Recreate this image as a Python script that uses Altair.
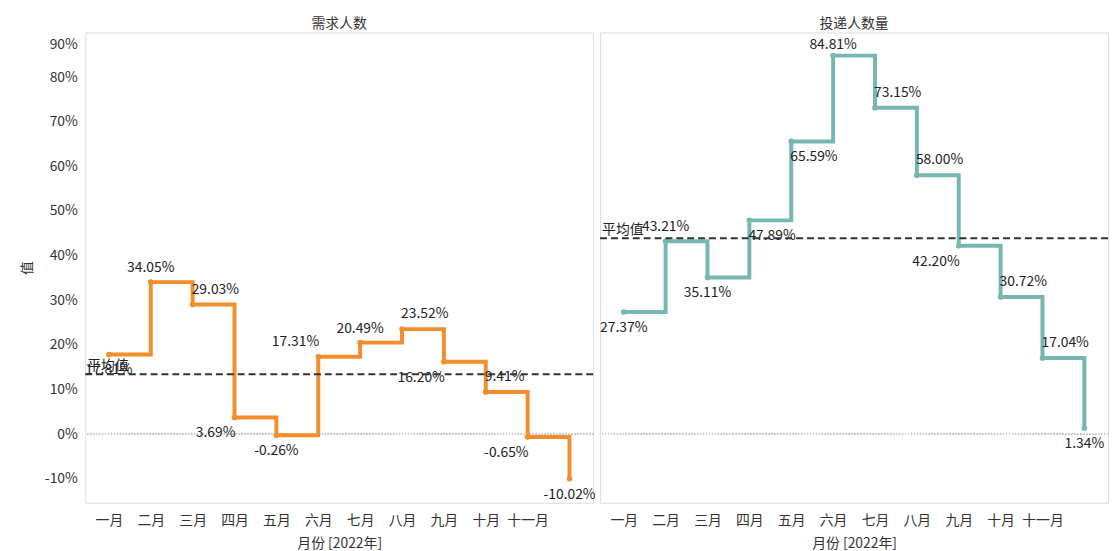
import altair as alt
import pandas as pd

months = ["一月", "二月", "三月", "四月", "五月", "六月", "七月", "八月", "九月", "十月", "十一月", "十二月"]
series_names = ["需求人数", "投递人数量"]
demand_pct = [17.81, 34.05, 29.03, 3.69, -0.26, 17.31, 20.49, 23.52, 16.20, 9.41, -0.65, -10.02]
applicant_pct = [27.37, 43.21, 35.11, 47.89, 65.59, 84.81, 73.15, 58.00, 42.20, 30.72, 17.04, 1.34]
# label placement relative to each point (as Tableau placed them)
demand_label_pos = ["below", "above", "above-right", "below-left", "below", "above-left",
                    "above", "above-right", "below-left", "above-right", "below-left", "below"]
applicant_label_pos = ["below", "above", "below", "below-right", "below-right", "above-top",
                       "above-right", "above-right", "below-left", "above-right", "above-right", "below"]
colors = ["#F28E2B", "#76B7B2"]

rows = []
for name, vals, poss in [(series_names[0], demand_pct, demand_label_pos),
                         (series_names[1], applicant_pct, applicant_label_pos)]:
    for m, v, p in zip(months, vals, poss):
        rows.append({"指标": name, "月份": m, "值": v / 100.0, "pos": p})
df = pd.DataFrame(rows)

FONT = "Noto Sans CJK SC"
W, H = 513, 475

x_enc = alt.X("月份:O", sort=months, scale=alt.Scale(type="point", padding=0.565),
              axis=alt.Axis(title="月份 [2022年]", labelAngle=0, labelFontSize=14, titleFontSize=14,
                            titleFontWeight="normal", labelColor="#333", titleColor="#333",
                            labelExpr="datum.value == '十二月' ? '' : datum.value",
                            domain=False, ticks=False, grid=False, labelPadding=10, titlePadding=9,
                            labelFont=FONT, titleFont=FONT))
y_scale = alt.Scale(domain=[-0.154, 0.90], nice=False, zero=False)
y_enc = alt.Y("值:Q", scale=y_scale,
              axis=alt.Axis(title="值", format=".0%", values=[-0.1, 0, 0.1, 0.2, 0.3, 0.4, 0.5, 0.6, 0.7, 0.8, 0.9],
                            labelExpr="replace(datum.label, '−', '-')",
                            labelFontSize=14, titleFontSize=14, titleFontWeight="normal",
                            labelColor="#333", titleColor="#333", domain=False, ticks=False,
                            gridColor="#f0f0f0", labelPadding=6, titlePadding=10,
                            labelFlush=True, labelFlushOffset=-5, labelFont=FONT, titleFont=FONT))
color_enc = alt.Color("指标:N", scale=alt.Scale(domain=series_names, range=colors), legend=None)

base = alt.Chart()

line = base.mark_line(interpolate="step-after", strokeWidth=4).encode(x=x_enc, y=y_enc, color=color_enc)
pts = base.mark_circle(size=32, opacity=1).encode(x=x_enc, y=y_enc, color=color_enc)

zero = base.mark_rule(color="#c8c8c8", strokeDash=[1, 2], strokeWidth=1).encode(y=alt.datum(0))

placements = {
    "above": dict(align="center", dy=-14, dx=0),
    "above-top": dict(align="center", dy=-11, dx=0),
    "below": dict(align="center", dy=16, dx=0),
    "above-right": dict(align="left", dy=-15, dx=-1),
    "above-left": dict(align="right", dy=-15, dx=1),
    "below-right": dict(align="left", dy=16, dx=-1),
    "below-left": dict(align="right", dy=16, dx=1),
}
label_layers = []
for key, st in placements.items():
    label_layers.append(
        base.mark_text(baseline="middle", fontSize=14, font=FONT, color="#222", **st)
        .encode(x=x_enc, y=alt.Y("值:Q", scale=y_scale), text="lbl:N")
        .transform_filter(alt.datum.pos == key)
        .transform_calculate(lbl="replace(format(datum['值'], '.2%'), '−', '-')")
    )

avg_rule = base.mark_rule(color="#333", strokeDash=[7, 4], strokeWidth=2).encode(
    y=alt.Y("mean(值):Q", scale=y_scale))
avg_text = base.mark_text(align="left", baseline="bottom", fontSize=14, font=FONT, color="#222", dx=2, dy=-1).encode(
    y=alt.Y("mean(值):Q", scale=y_scale), x=alt.value(0), text=alt.value("平均值"))

layered = alt.layer(zero, line, pts, *label_layers, avg_rule, avg_text, data=df).properties(
    width=W, height=H)

chart = layered.facet(
    column=alt.Column("指标:N", sort=series_names,
                      header=alt.Header(title=None, labelFontSize=14, labelColor="#333", labelFont=FONT,
                                        labelOrient="top", labelPadding=1))
).properties(
    spacing=2, padding={"left": 12, "top": 6, "right": 0, "bottom": 0}
).configure_view(stroke="#d4d4d4").configure(background="white")

chart.save("out.html", embed_options={"renderer": "svg", "actions": False})
